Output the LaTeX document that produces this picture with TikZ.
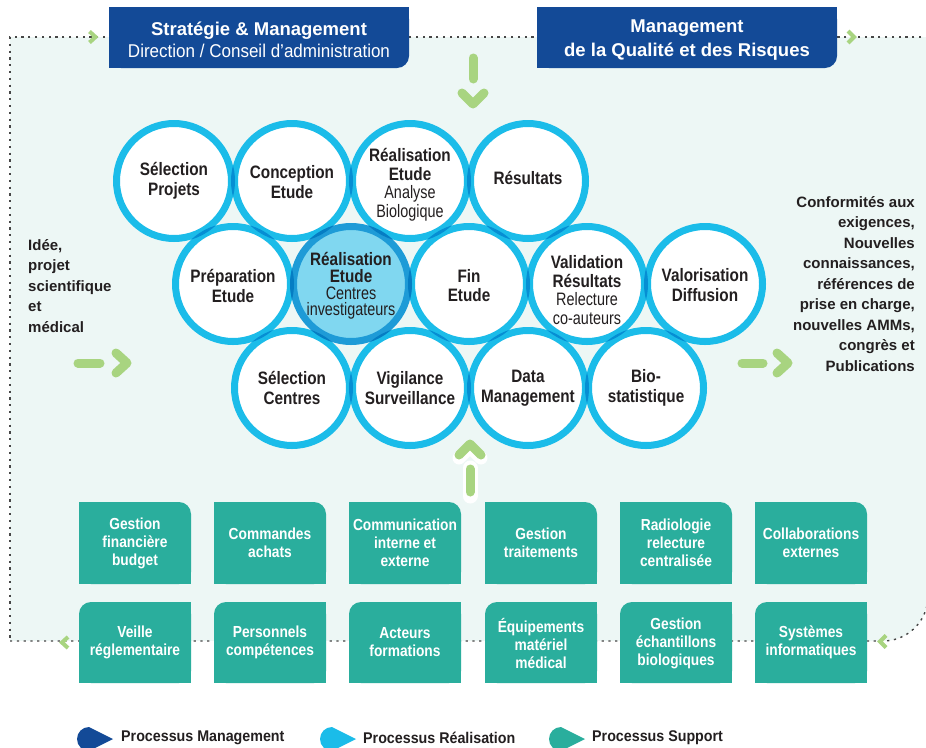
\documentclass[tikz,border=0pt]{standalone}
\usepackage{fontspec}
\setmainfont{Liberation Sans}
\newfontfamily\cnd{Liberation Sans}[FakeStretch=0.85]
\newfontfamily\cndl{Liberation Sans}[FakeStretch=0.8]
\newfontfamily\cndb{Liberation Sans}[FakeStretch=0.86]
\newfontfamily\cndg{Liberation Sans}[FakeStretch=0.92]
\newfontfamily\ttl{Liberation Sans}[FakeStretch=0.92]
\definecolor{mblue}{RGB}{19,74,151}
\definecolor{ringc}{RGB}{27,188,233}
\definecolor{lensc}{RGB}{6,142,211}
\definecolor{hlfill}{RGB}{128,215,240}
\definecolor{hlring}{RGB}{30,155,215}
\definecolor{hllens}{RGB}{5,125,195}
\definecolor{tealc}{RGB}{42,174,157}
\definecolor{txtc}{RGB}{35,31,32}
\definecolor{dotc}{RGB}{70,70,70}
\definecolor{greenc}{RGB}{168,212,128}
\definecolor{mint}{RGB}{237,247,245}
\begin{document}
\begin{tikzpicture}[x=1pt,y=-1pt,
  dotline/.style={draw=dotc,line width=1.4pt,dash pattern=on 2.2pt off 4.6pt},
  chev/.style={draw=greenc,line width=4pt,line cap=butt,line join=miter},
  garrow/.style={draw=greenc,line width=9pt,line cap=round,line join=round},
  ringnode/.style={circle,draw=ringc,line width=7pt,fill=white,minimum size=115pt,inner sep=0pt},
  ctext/.style={align=center,inner sep=0pt,text=txtc,font=\cnd\bfseries\fontsize{18}{19.5}\selectfont},
  stext/.style={align=center,inner sep=0pt,text=white,font=\cndb\bfseries\fontsize{16}{18}\selectfont},
  sidetext/.style={inner sep=0pt,text=txtc,font=\bfseries\fontsize{15}{20.5}\selectfont},
  legtext/.style={anchor=west,inner sep=0pt,text=txtc,font=\cndg\bfseries\fontsize{15.5}{18}\selectfont}]
\useasboundingbox (0,0) rectangle (926,747);
\clip (0,0) rectangle (926,747);
\fill[white] (0,0) rectangle (926,747);
% mint background
\fill[mint] (10,37) rectangle (928,560);
\fill[mint] (10,500) rectangle (850,641);
\fill[mint,rounded corners=45pt] (800,500) -- (800,641) -- (928,641) -- (928,500) -- cycle;
% dotted frame
\draw[dotline] (928,37) -- (10,37) -- (10,641);
\draw[dotline,rounded corners=45pt] (10,641) -- (928,641) -- (928,540);
% small chevrons
\draw[chev] (89.5,31.5) -- (95.5,37) -- (89.5,42.5);
\draw[chev] (848,31) -- (854,37) -- (848,43);
\draw[chev] (68,637) -- (62,642.5) -- (68,648);
\draw[chev] (886,635.5) -- (880,641.5) -- (886,647.5);
% top boxes
\fill[mblue,rounded corners=12pt] (109,7) rectangle (409,68);
\fill[mblue] (109,7) rectangle (409,40);
\fill[mblue] (109,7) rectangle (300,68);
\node[align=center,inner sep=0pt,text=white,font=\fontsize{18.5}{22}\selectfont] (m1) at (259,39.5)
  {{\bfseries Stratégie \& Management}\\{\ttl Direction / Conseil d’administration}};
\fill[mblue,rounded corners=12pt] (537,7) rectangle (837,68);
\fill[mblue] (537,7) rectangle (837,40);
\fill[mblue] (537,7) rectangle (700,68);
\node[align=center,inner sep=0pt,text=white,font=\bfseries\fontsize{18.5}{24}\selectfont] (m2) at (687,40.5)
  {Management\\de la Qualité et des Risques};
% green arrows
\draw[garrow] (473,58) -- (473,79);
\draw[garrow] (462,93) -- (473,104) -- (484,93);
\draw[garrow] (78,363) -- (100,363);
\draw[garrow] (116,353) -- (127,363) -- (116,373);
\draw[garrow] (742,363) -- (763,363);
\draw[garrow] (777,353) -- (788,363) -- (777,373);
\draw[garrow,draw=white,line width=15pt] (470,468) -- (470,496);
\draw[garrow,draw=white,line width=13pt] (459,458) -- (470,447) -- (481,458);
\draw[garrow] (470,469) -- (470,492);
\draw[garrow] (459,455) -- (470,444) -- (481,455);
% circles
\node[ringnode] (c1) at (174,181) {};
\node[ringnode] (c2) at (292,181) {};
\node[ringnode] (c3) at (410,181) {};
\node[ringnode] (c4) at (528,181) {};
\node[ringnode] (c5) at (233,284) {};
\node[ringnode] (c7) at (469,284) {};
\node[ringnode] (c8) at (587,284) {};
\node[ringnode] (c9) at (705,284) {};
\node[ringnode] (c10) at (292,388) {};
\node[ringnode] (c11) at (410,388) {};
\node[ringnode] (c12) at (528,388) {};
\node[ringnode] (c13) at (646,388) {};
\node[ringnode,draw=hlring,fill=hlfill] (c6) at (351,284) {};
\foreach \a/\b/\c in {c1/c2/lensc,c2/c3/lensc,c3/c4/lensc,c5/c6/hllens,c6/c7/hllens,c7/c8/lensc,c8/c9/lensc,
  c10/c11/lensc,c11/c12/lensc,c12/c13/lensc,
  c1/c5/lensc,c2/c5/lensc,c2/c6/hllens,c3/c6/hllens,c3/c7/lensc,c4/c7/lensc,c4/c8/lensc,
  c10/c5/lensc,c10/c6/hllens,c11/c6/hllens,c11/c7/lensc,c12/c7/lensc,c12/c8/lensc,c13/c8/lensc,c13/c9/lensc}{
  \begin{scope}
    \clip (\a.center) circle[radius=61pt];
    \draw[draw=\c,line width=7pt] (\b.center) circle[radius=57.5pt];
  \end{scope}
}
% circle texts
\node[ctext] (t1) at (174,181) {Sélection\\Projets};
\node[ctext] (t2) at (292,182) {Conception\\Etude};
\node[ctext,font=\cnd\bfseries\fontsize{18}{18.5}\selectfont] (t3) at (410,185) {Réalisation\\Etude\\{\cndl\mdseries Analyse}\\{\cndl\mdseries Biologique}};
\node[ctext] (t4) at (528,178) {Résultats};
\node[ctext] (t5) at (233,286) {Préparation\\Etude};
\node[ctext,font=\cnd\bfseries\fontsize{18}{16.8}\selectfont] (t6) at (351,286) {Réalisation\\Etude\\{\cndl\mdseries Centres}\\{\cndl\mdseries investigateurs}};
\node[ctext] (t7) at (469,285.5) {Fin\\Etude};
\node[ctext,font=\cnd\bfseries\fontsize{18}{18.7}\selectfont] (t8) at (587,290) {Validation\\Résultats\\{\cndl\mdseries Relecture}\\{\cndl\mdseries co-auteurs}};
\node[ctext] (t9) at (705,285) {Valorisation\\Diffusion};
\node[ctext] (t10) at (292,388) {Sélection\\Centres};
\node[ctext] (t11) at (410,388) {Vigilance\\Surveillance};
\node[ctext] (t12) at (528,388) {Data\\Management};
\node[ctext] (t13) at (646,388) {Bio-\\statistique};
% side texts
\node[sidetext,anchor=west,align=left] (idea) at (28,286) {Idée,\\projet\\scientifique\\et\\médical};
\node[sidetext,anchor=east,align=right] (outc) at (915,284) {Conformités aux\\exigences,\\Nouvelles\\connaissances,\\références de\\prise en charge,\\nouvelles AMMs,\\congrès et\\Publications};
% support boxes
\foreach \x in {79,214,349,485,620,755}{
  \fill[tealc,rounded corners=12pt] (\x,502) rectangle (\x+112,584);
  \fill[tealc] (\x,502) rectangle (\x+60,584);
  \fill[tealc] (\x,545) rectangle (\x+112,584);
  \fill[tealc,rounded corners=12pt] (\x,602) rectangle (\x+112,683);
  \fill[tealc] (\x+50,602) rectangle (\x+112,683);
  \fill[tealc] (\x,645) rectangle (\x+112,683);
}
\node[stext] (b1) at (135,543) {Gestion\\financière\\budget};
\node[stext] (b2) at (270,543) {Commandes\\achats};
\node[stext] (b3) at (405,543) {Communication\\interne et\\externe};
\node[stext] (b4) at (541,543) {Gestion\\traitements};
\node[stext] (b5) at (676,543) {Radiologie\\relecture\\centralisée};
\node[stext] (b6) at (811,543) {Collaborations\\externes};
\node[stext] (b7) at (135,642.5) {Veille\\réglementaire};
\node[stext] (b8) at (270,642.5) {Personnels\\compétences};
\node[stext] (b9) at (405,642.5) {Acteurs\\formations};
\node[stext] (b10) at (541,643) {Équipements\\matériel\\médical};
\node[stext] (b11) at (676,643) {Gestion\\échantillons\\biologiques};
\node[stext] (b12) at (811,642.5) {Systèmes\\informatiques};
% legend
\fill[mblue] (89,727) -- (113,739) -- (89,751) arc[start angle=90,end angle=270,radius=12] -- cycle;
\fill[ringc] (332,727) -- (356,739) -- (332,751) arc[start angle=90,end angle=270,radius=12] -- cycle;
\fill[tealc] (561,727) -- (585,739) -- (561,751) arc[start angle=90,end angle=270,radius=12] -- cycle;
\node[legtext] (l1) at (121,738) {Processus Management};
\node[legtext] (l2) at (363,738) {Processus Réalisation};
\node[legtext] (l3) at (592,738) {Processus Support};
\end{tikzpicture}
\end{document}
